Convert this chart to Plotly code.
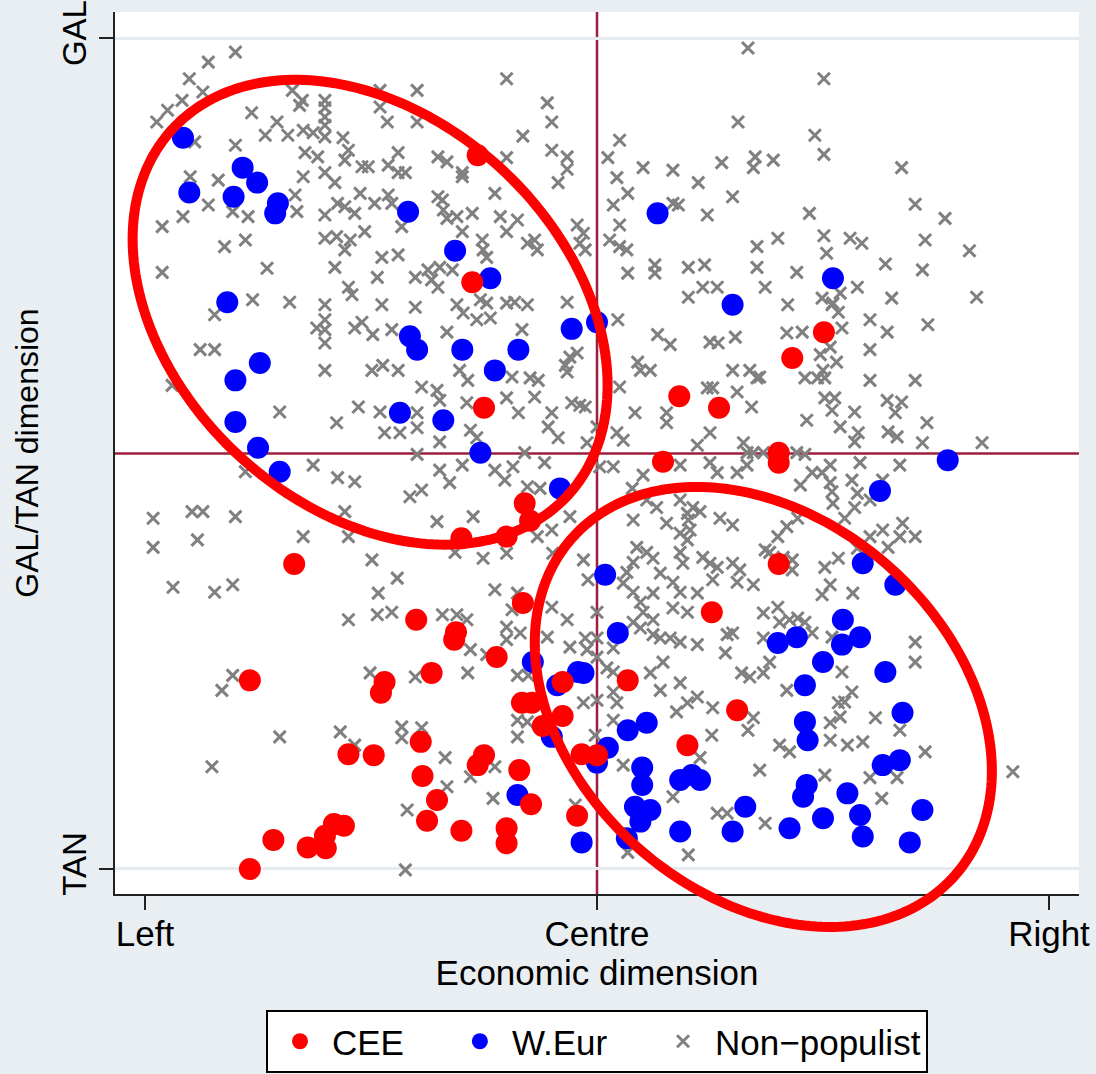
import numpy as np
import plotly.graph_objects as go

# ---------------- data (0-10 scales: Left..Right, TAN..GAL) ----------------
cee_x = [3.68, 3.62, 3.75, 7.51, 7.16, 5.91, 6.35, 7.01, 7.01, 5.73, 4.20, 4.26, 4.00, 3.50,
         1.65, 7.01, 6.27, 4.18, 3.00, 3.44, 3.42, 3.89, 3.17, 1.16, 2.65, 2.61, 5.34, 4.62,
         4.17, 4.28, 4.62, 4.40, 6.55, 6.00, 3.05, 2.25, 2.53, 3.75, 3.68, 4.83, 5.00, 4.14,
         3.07, 3.23, 4.27, 4.78, 3.12, 3.50, 4.00, 4.00, 2.20, 2.09, 1.99, 2.00, 1.80, 1.42, 1.16]
cee_y = [8.59, 7.06, 5.55, 6.46, 6.15, 5.69, 5.55, 5.01, 4.89, 4.90, 4.40, 4.19, 4.00, 3.98,
         3.67, 3.67, 3.09, 3.20, 3.00, 2.85, 2.76, 2.55, 2.36, 2.27, 2.25, 2.12, 2.27, 2.25,
         2.00, 2.00, 1.84, 1.72, 1.91, 1.49, 1.53, 1.38, 1.37, 1.37, 1.25, 1.38, 1.37, 1.19,
         1.12, 0.83, 0.78, 0.64, 0.58, 0.46, 0.49, 0.31, 0.52, 0.54, 0.40, 0.25, 0.26, 0.35, 0.00]

weur_x = [0.42, 1.08, 1.24, 0.49, 0.98, 1.47, 1.44, 2.91, 0.91, 5.67, 3.43, 3.82, 6.50, 7.61,
          1.27, 1.00, 1.00, 1.25, 1.49, 2.93, 3.01, 2.82, 3.30, 3.51, 4.13, 3.87, 4.72, 5.00,
          3.71, 4.59, 5.09, 8.88, 8.13, 7.94, 8.30, 5.23, 4.29, 4.79, 4.85, 4.56, 4.50, 5.34,
          5.55, 5.12, 5.00, 5.50, 5.50, 5.92, 6.05, 6.14, 4.12, 5.42, 5.59, 5.48, 5.33, 5.92,
          6.50, 6.64, 4.83, 7.72, 7.00, 7.21, 7.71, 7.91, 7.50, 8.19, 7.30, 8.38, 7.30, 7.33,
          8.16, 8.35, 7.32, 7.28, 7.77, 7.50, 7.91, 7.94, 7.13, 8.60, 8.46]
weur_y = [8.80, 8.44, 8.26, 8.14, 8.09, 8.01, 7.89, 7.91, 6.82, 7.89, 7.44, 7.11, 6.79, 7.11,
          6.09, 5.88, 5.38, 5.07, 4.78, 6.41, 6.25, 5.49, 5.40, 6.25, 6.25, 6.00, 6.50, 6.58,
          5.01, 4.58, 3.54, 4.92, 4.55, 3.68, 3.42, 2.84, 2.49, 2.37, 2.36, 2.21, 1.59, 1.67,
          1.76, 1.46, 1.28, 1.22, 1.01, 1.07, 1.13, 1.07, 0.89, 0.75, 0.71, 0.57, 0.37, 0.45,
          0.45, 0.75, 0.32, 3.00, 2.72, 2.79, 2.70, 2.79, 2.49, 2.37, 2.21, 1.88, 1.77, 1.55,
          1.25, 1.31, 1.01, 0.87, 0.91, 0.61, 0.65, 0.39, 0.49, 0.71, 0.32]

# non-populist parties, (economic, GAL/TAN) pairs by region of the chart
nonpop_gal_left = [
    (1.00, 9.83), (0.70, 9.71), (0.49, 9.51), (0.64, 9.35), (0.41, 9.25), (0.25, 9.13), (0.13, 8.99),
    (0.55, 8.75), (1.18, 9.10), (1.46, 8.99), (1.33, 8.83), (1.58, 8.83), (1.63, 9.37), (1.74, 9.25),
    (1.71, 9.19), (1.99, 9.25), (1.99, 9.16), (1.99, 9.05), (1.99, 8.95), (1.99, 8.81), (1.75, 8.89),
    (1.86, 8.86), (2.19, 8.80), (2.60, 9.37), (2.60, 9.17), (2.68, 8.99), (3.01, 9.37), (3.01, 8.99),
    (1.00, 8.71), (0.50, 8.33), (0.81, 8.29), (0.70, 7.99), (0.42, 7.85), (0.19, 7.73), (1.77, 8.62),
    (1.91, 8.57), (1.75, 8.33), (1.99, 8.38), (2.10, 8.26), (2.25, 8.65), (2.21, 8.53), (2.40, 8.45),
    (2.47, 8.45), (2.80, 8.62), (2.69, 8.47), (2.80, 8.38), (2.88, 8.38), (3.24, 8.57), (1.66, 8.11),
    (1.68, 7.91), (1.14, 7.85), (0.97, 7.91), (1.11, 7.57), (0.88, 7.49), (1.99, 7.87), (2.13, 8.01),
    (2.21, 7.97), (2.32, 7.89), (2.38, 8.13), (2.54, 8.01), (2.69, 8.11), (2.73, 8.01), (3.24, 8.09),
    (3.30, 7.93), (1.99, 7.59), (2.12, 7.61), (2.27, 7.57), (2.43, 7.67), (2.21, 7.45), (2.84, 7.73),
    (2.62, 7.36), (2.80, 7.39), (0.19, 7.18), (1.35, 7.23), (2.10, 7.24), (2.57, 7.12), (2.25, 7.00),
    (2.29, 6.91), (2.99, 7.12), (3.13, 7.21), (3.17, 7.09), (3.24, 7.00), (1.19, 6.85), (1.60, 6.82),
    (1.99, 6.79), (2.62, 6.79), (2.99, 6.76),
]
nonpop_gal_centre = [
    (4.00, 9.51), (4.45, 9.22), (4.50, 8.99), (4.18, 8.82), (4.50, 8.65), (4.67, 8.57), (4.67, 8.42),
    (4.57, 8.26), (4.00, 8.56), (3.34, 8.51), (3.51, 8.38), (3.51, 8.33), (3.87, 8.13), (3.29, 8.05),
    (3.34, 7.83), (3.45, 7.85), (3.62, 7.89), (3.51, 7.67), (3.93, 7.85), (4.12, 7.81), (4.00, 7.67),
    (4.23, 7.53), (4.31, 7.57), (4.34, 7.45), (4.78, 7.75), (4.85, 7.65), (4.81, 7.53), (4.87, 7.45),
    (3.73, 7.57), (3.74, 7.45), (3.78, 7.36), (3.40, 7.21), (3.26, 7.24), (3.71, 6.85), (3.45, 6.79),
    (4.00, 6.81), (4.09, 6.82), (4.23, 6.79), (4.67, 6.82), (3.78, 6.81),
    (6.67, 9.88), (6.56, 8.99), (5.25, 8.77), (5.12, 8.56), (5.51, 8.44), (5.84, 8.41), (6.38, 8.50),
    (6.75, 8.57), (6.73, 8.44), (5.22, 8.32), (5.34, 8.13), (6.12, 8.26), (6.50, 8.09), (5.18, 7.99),
    (5.84, 8.01), (5.90, 7.99), (6.22, 7.87), (5.25, 7.75), (5.14, 7.57), (5.25, 7.49), (5.33, 7.45),
    (6.77, 7.49), (5.34, 7.17), (5.64, 7.27), (5.64, 7.17), (6.01, 7.24), (6.19, 7.27), (6.77, 7.24),
    (6.17, 7.00), (6.33, 7.00), (6.86, 7.00), (6.01, 6.88),
]
nonpop_gal_right = [
    (7.51, 9.51), (7.41, 8.83), (7.51, 8.60), (6.95, 8.53), (8.37, 8.44), (7.35, 7.89), (8.52, 8.00),
    (8.85, 7.83), (7.00, 7.59), (7.51, 7.62), (7.54, 7.41), (7.80, 7.59), (7.93, 7.53), (8.63, 7.57),
    (9.12, 7.44), (8.19, 7.28), (8.60, 7.21), (7.21, 7.18), (7.88, 7.00), (7.69, 6.93), (8.26, 6.87),
    (9.20, 6.88), (7.49, 6.87), (7.61, 6.81), (7.11, 6.79),
]
nonpop_mid_left = [
    (0.77, 6.67), (1.99, 6.61), (1.90, 6.51), (1.99, 6.49), (1.99, 6.33), (2.32, 6.51), (2.40, 6.58),
    (2.52, 6.43), (2.73, 6.49), (0.61, 6.25), (0.77, 6.25), (0.30, 5.82), (1.99, 6.00), (2.51, 6.00),
    (2.63, 6.06), (2.80, 6.00), (3.06, 5.80), (3.23, 5.76), (3.26, 5.64), (1.49, 5.50), (2.12, 5.37),
    (2.36, 5.56), (2.60, 5.50), (2.65, 5.25), (2.82, 5.25), (3.01, 5.31), (3.01, 5.49), (3.26, 5.14),
    (3.01, 4.99), (1.11, 4.78), (1.86, 4.86), (2.13, 4.71), (2.32, 4.66), (2.93, 4.48), (3.06, 4.56),
    (3.26, 4.80), (0.09, 4.22), (0.52, 4.30), (0.64, 4.30), (1.00, 4.24), (2.21, 4.30), (0.09, 3.87),
    (0.58, 3.96), (1.75, 4.00), (2.25, 4.00), (3.23, 4.18), (2.51, 3.72), (2.79, 3.50), (0.31, 3.39),
    (0.77, 3.33), (0.97, 3.42), (2.58, 3.32),
]
nonpop_mid_centre = [
    (3.52, 6.69), (3.82, 6.63), (3.67, 6.61), (4.17, 6.49), (3.34, 6.46), (4.70, 6.16), (4.78, 6.21),
    (4.65, 6.06), (4.67, 5.98), (3.48, 6.00), (3.57, 5.88), (4.06, 5.92), (4.26, 5.91), (4.35, 5.88),
    (4.00, 5.67), (4.31, 5.68), (3.56, 5.61), (4.13, 5.49), (4.72, 5.61), (4.81, 5.58), (4.87, 5.56),
    (4.50, 5.49), (4.46, 5.32), (4.57, 5.19), (3.60, 5.28), (3.67, 5.19), (4.89, 5.13), (4.20, 5.01),
    (3.51, 4.86), (3.87, 4.80), (4.07, 4.84), (4.42, 4.89), (3.98, 4.68), (3.37, 4.65), (4.23, 4.60),
    (4.37, 4.58), (3.63, 4.24), (4.34, 4.00), (4.50, 4.08), (4.70, 4.24), (3.74, 3.74), (4.00, 3.80),
    (3.43, 3.81), (4.51, 3.80), (3.87, 3.36), (4.12, 3.32), (4.85, 3.72), (4.90, 3.48),
    (5.23, 6.61), (5.67, 6.43), (5.81, 6.31), (6.25, 6.34), (6.34, 6.33), (6.53, 6.40), (5.00, 5.32),
    (5.25, 5.80), (5.45, 6.10), (5.48, 6.00), (5.59, 6.00), (5.42, 5.49), (5.77, 5.49), (5.77, 5.37),
    (6.22, 5.79), (6.28, 5.79), (6.55, 5.74), (6.50, 6.00), (6.69, 6.00), (6.77, 5.91), (6.71, 5.56),
    (5.22, 5.25), (5.29, 5.16), (6.25, 5.25), (6.11, 5.10), (6.62, 5.13), (6.66, 5.01), (6.73, 5.01),
    (5.18, 4.84), (5.03, 4.84), (5.51, 4.74), (5.92, 4.86), (6.25, 4.89), (6.33, 4.77), (6.55, 4.77),
    (6.66, 4.86), (5.39, 4.58), (5.55, 4.44), (5.66, 4.35), (5.92, 4.44), (6.06, 4.35), (6.14, 4.30),
    (6.00, 4.28), (6.01, 4.20), (5.40, 4.20), (5.77, 4.16), (6.36, 4.22), (6.50, 4.14), (5.92, 4.04),
    (6.03, 4.08), (6.00, 3.96), (6.86, 3.84), (5.44, 3.87), (5.55, 3.81), (5.62, 3.74), (5.40, 3.69),
    (5.92, 3.81), (5.95, 3.68), (6.17, 3.75), (6.25, 3.68), (6.33, 3.63), (6.50, 3.68), (6.58, 3.60),
    (6.55, 3.45), (6.28, 3.48), (5.33, 3.57), (5.70, 3.56), (5.84, 3.45), (5.29, 3.44), (5.40, 3.33),
    (5.62, 3.32), (5.92, 3.33), (6.11, 3.32), (6.73, 3.42),
]
nonpop_mid_right = [
    (7.60, 6.79), (7.67, 6.70), (7.10, 6.45), (7.27, 6.46), (7.71, 6.51), (8.02, 6.61), (8.21, 6.46),
    (8.66, 6.55), (6.80, 5.92), (7.47, 6.19), (7.58, 6.28), (7.65, 6.10), (7.50, 6.00), (7.30, 5.91),
    (7.44, 5.91), (7.52, 5.91), (8.02, 6.25), (8.02, 5.88), (8.52, 5.88), (7.52, 5.67), (7.63, 5.67),
    (7.60, 5.52), (8.21, 5.64), (8.37, 5.62), (8.30, 5.49), (7.85, 5.50), (7.32, 5.40), (7.69, 5.32),
    (7.89, 5.25), (7.85, 5.14), (8.22, 5.26), (8.32, 5.20), (8.65, 5.37), (8.60, 5.13), (9.26, 5.13),
    (6.84, 5.01), (7.21, 5.01), (7.30, 4.99), (7.91, 4.89), (8.35, 4.86), (7.38, 4.77), (7.49, 4.77),
    (7.58, 4.86), (7.25, 4.62), (7.58, 4.65), (7.60, 4.54), (7.82, 4.68), (8.16, 4.68), (7.88, 4.52),
    (8.02, 4.44), (7.61, 4.40), (7.85, 4.35), (7.74, 4.22), (7.22, 4.22), (7.10, 4.12), (7.00, 4.00),
    (6.91, 3.81), (7.06, 3.75), (7.16, 3.72), (8.02, 4.00), (8.16, 4.08), (8.38, 4.16), (8.35, 4.00),
    (8.52, 4.00), (8.22, 3.87), (7.88, 3.86), (7.67, 3.74), (7.52, 3.63), (7.58, 3.42), (7.49, 3.30),
    (7.83, 3.32), (7.16, 3.60),
]
nonpop_tan_left = [
    (2.25, 3.00), (2.57, 3.06), (2.73, 3.09), (3.29, 3.06), (0.97, 2.33), (0.85, 2.15), (2.49, 2.36),
    (2.99, 2.31), (1.49, 1.59), (2.16, 1.65), (2.32, 1.49), (2.84, 1.71), (2.84, 1.58), (3.06, 1.70),
    (0.74, 1.23), (2.90, 0.71), (2.88, -0.01), (3.32, 1.34),
]
nonpop_tan_centre = [
    (3.45, 3.06), (3.56, 3.00), (4.06, 3.12), (4.50, 3.15), (4.67, 3.00), (4.00, 2.91), (4.00, 2.76),
    (4.15, 2.84), (4.45, 2.79), (3.60, 2.64), (3.78, 2.58), (3.57, 2.36), (4.12, 2.33), (4.24, 2.33),
    (4.70, 2.67), (4.87, 2.78), (5.00, 2.78), (5.00, 3.09), (5.00, 2.55), (4.89, 2.64), (5.18, 2.66),
    (5.11, 2.42), (5.18, 2.37), (4.85, 2.00), (5.00, 2.03), (5.22, 2.00), (5.18, 1.79), (5.18, 2.13),
    (4.12, 1.79), (4.23, 1.77), (4.12, 1.59), (4.98, 1.61), (3.60, 1.11), (3.87, 1.23), (3.34, 0.99),
    (3.85, 0.85), (4.76, 0.77), (5.29, 1.25), (5.34, 0.20), (6.01, 0.17),
    (5.48, 3.21), (5.51, 3.09), (5.62, 3.00), (5.84, 3.14), (6.00, 3.09), (5.40, 2.97), (5.48, 2.90),
    (5.62, 2.82), (5.70, 2.78), (5.81, 2.78), (5.92, 2.73), (6.11, 2.70), (5.73, 2.49), (5.59, 2.36),
    (5.70, 2.15), (5.92, 2.24), (5.88, 1.89), (6.00, 2.00), (6.11, 2.07), (6.28, 1.94), (6.27, 1.61),
    (6.44, 2.82), (6.50, 2.84), (6.42, 2.60), (6.60, 2.36), (6.69, 2.31), (6.73, 1.82), (6.67, 1.67),
    (6.84, 3.08), (6.84, 2.78), (6.84, 2.36), (6.80, 1.19), (6.14, 1.34), (5.84, 0.87), (6.33, 0.67),
    (6.44, 0.67), (6.86, 0.55),
]
nonpop_tan_right = [
    (7.00, 3.15), (7.02, 2.97), (7.13, 3.00), (7.22, 3.02), (7.30, 2.97), (7.38, 2.84), (7.60, 2.79),
    (6.91, 2.49), (8.52, 2.73), (8.52, 2.49), (7.71, 2.37), (7.10, 2.15), (7.82, 2.13), (7.74, 2.01),
    (7.67, 2.00), (7.69, 1.83), (7.58, 1.76), (8.08, 1.82), (8.35, 1.67), (7.02, 1.49), (7.13, 1.41),
    (7.58, 1.55), (7.77, 1.49), (7.94, 1.53), (8.63, 1.41), (7.52, 1.13), (8.02, 1.10), (8.32, 1.10),
    (8.15, 0.85), (9.60, 1.17),
]

x_tick_vals = [0, 5, 10]
x_tick_text = ["Left", "Centre", "Right"]
y_tick_vals = [0, 10]
y_tick_text = ["TAN", "GAL"]
series_names = ["CEE", "W.Eur", "Non\u2212populist"]

# ---------------- figure ----------------
X_RANGE = [-0.332, 10.332]
Y_RANGE = [-0.301, 10.313]
FONT = "Liberation Sans, Arial, sans-serif"
BG = "#e9eef3"
PAD = "\u00a0" * 4   # extra room after a legend label, as in the original legend

nonpop = (nonpop_gal_left + nonpop_gal_centre + nonpop_gal_right + nonpop_mid_left
          + nonpop_mid_centre + nonpop_mid_right + nonpop_tan_left + nonpop_tan_centre
          + nonpop_tan_right)
np_x = [p[0] for p in nonpop]
np_y = [p[1] for p in nonpop]

fig = go.Figure()
fig.add_trace(go.Scatter(
    x=np_x, y=np_y, mode="markers", name=series_names[2], legendrank=3,
    marker=dict(symbol="x-thin", size=12, color="#808080",
                line=dict(width=3, color="#808080")),
))
fig.add_trace(go.Scatter(
    x=weur_x, y=weur_y, mode="markers", name=series_names[1] + PAD, legendrank=2,
    marker=dict(symbol="circle", size=22, color="#0000ff", line=dict(width=0)),
))
fig.add_trace(go.Scatter(
    x=cee_x, y=cee_y, mode="markers", name=series_names[0] + PAD, legendrank=1,
    marker=dict(symbol="circle", size=22, color="#ff0000", line=dict(width=0)),
))


def ellipse_path(cx, cy, ax, bx, ay, by, n=240):
    t = np.linspace(0, 2 * np.pi, n)
    xs = cx + ax * np.cos(t) + bx * np.sin(t)
    ys = cy + ay * np.cos(t) + by * np.sin(t)
    px = (xs - X_RANGE[0]) / (X_RANGE[1] - X_RANGE[0])
    py = (ys - Y_RANGE[0]) / (Y_RANGE[1] - Y_RANGE[0])
    return "M " + " L ".join(f"{a:.5f},{b:.5f}" for a, b in zip(px, py)) + " Z"


shapes = [
    dict(type="line", xref="x", yref="paper", x0=5, x1=5, y0=0, y1=1,
         line=dict(color="#9c1f3d", width=2.5), layer="below"),
    dict(type="line", xref="paper", yref="y", x0=0, x1=1, y0=5, y1=5,
         line=dict(color="#9c1f3d", width=2.5), layer="below"),
    dict(type="path", xref="paper", yref="paper",
         path=ellipse_path(2.49, 6.70, 2.178, -1.469, -2.214, -1.709),
         line=dict(color="#ff0000", width=10), layer="above"),
    dict(type="path", xref="paper", yref="paper",
         path=ellipse_path(6.84, 1.95, 2.121, -1.376, -2.026, -1.704),
         line=dict(color="#ff0000", width=10), layer="above"),
]

fig.update_layout(
    width=1096, height=1074,
    margin=dict(l=115, r=17, t=12, b=180, autoexpand=False),
    paper_bgcolor=BG, plot_bgcolor="white",
    font=dict(family=FONT, size=35, color="black"),
    shapes=shapes,
    showlegend=True,
    legend=dict(orientation="h", x=0.5, xanchor="center", y=-0.1315, yanchor="top",
                bgcolor="white", bordercolor="black", borderwidth=2,
                font=dict(family=FONT, size=35, color="black"),
                itemsizing="trace", itemwidth=54, traceorder="normal"),
    xaxis=dict(range=X_RANGE, tickmode="array", tickvals=x_tick_vals, ticktext=x_tick_text,
               showgrid=False, zeroline=False, showline=True, linecolor="#222222", linewidth=2,
               ticks="outside", ticklen=14, tickwidth=1.8, tickcolor="#222222",
               ticklabelstandoff=-6, tickfont=dict(family=FONT, size=35),
               title=dict(text="Economic dimension", standoff=0,
                          font=dict(family=FONT, size=35)),
               automargin=False),
    yaxis=dict(range=Y_RANGE, tickmode="array", tickvals=y_tick_vals, ticktext=y_tick_text,
               tickangle=-90, showgrid=True, gridcolor="#e6ebf0", gridwidth=3,
               zeroline=False, showline=True, linecolor="#222222", linewidth=2,
               ticks="outside", ticklen=14, tickwidth=1.8, tickcolor="#222222",
               tickfont=dict(family=FONT, size=33),
               title=dict(text="GAL/TAN dimension", standoff=8,
                          font=dict(family=FONT, size=32)),
               automargin=False),
)

fig.write_html("out.html",
               config={"displayModeBar": False},
               post_script="document.body.style.margin='0px';"
                           "document.body.style.overflow='hidden';")
